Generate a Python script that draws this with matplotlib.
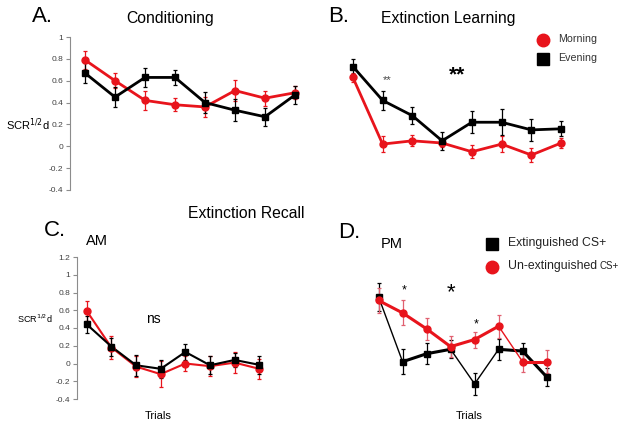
import numpy as np
import matplotlib
matplotlib.use('Agg')
from matplotlib import pyplot as plt

plt.rcParams['font.family'] = 'Liberation Sans'

trials = np.arange(1, 9)

# A. Conditioning
cond_am = [0.79, 0.60, 0.42, 0.38, 0.36, 0.51, 0.44, 0.49]
cond_am_err = [0.08, 0.07, 0.09, 0.06, 0.09, 0.10, 0.07, 0.06]
cond_pm = [0.67, 0.45, 0.63, 0.63, 0.40, 0.33, 0.27, 0.47]
cond_pm_err = [0.09, 0.09, 0.09, 0.07, 0.10, 0.10, 0.08, 0.08]

# B. Extinction learning
ext_am = [0.63, 0.02, 0.05, 0.03, -0.05, 0.02, -0.08, 0.03]
ext_am_err = [0.04, 0.07, 0.05, 0.04, 0.06, 0.07, 0.06, 0.05]
ext_pm = [0.73, 0.42, 0.28, 0.05, 0.22, 0.22, 0.15, 0.16]
ext_pm_err = [0.07, 0.09, 0.08, 0.08, 0.10, 0.12, 0.10, 0.07]

# C. Recall AM (red = un-extinguished, black = extinguished)
rec_am_un = [0.59, 0.18, -0.035, -0.12, 0.0, -0.03, 0.01, -0.06]
rec_am_un_err = [0.11, 0.13, 0.12, 0.15, 0.08, 0.11, 0.12, 0.11]
rec_am_ex = [0.44, 0.19, -0.02, -0.06, 0.13, -0.02, 0.04, -0.015]
rec_am_ex_err = [0.10, 0.10, 0.12, 0.10, 0.09, 0.10, 0.08, 0.10]

# D. Recall PM
rec_pm_un = [0.71, 0.57, 0.39, 0.19, 0.27, 0.42, 0.02, 0.02]
rec_pm_un_err = [0.14, 0.14, 0.12, 0.12, 0.09, 0.13, 0.12, 0.13]
rec_pm_ex = [0.75, 0.02, 0.11, 0.16, -0.23, 0.16, 0.14, -0.15]
rec_pm_ex_err = [0.16, 0.14, 0.12, 0.10, 0.12, 0.12, 0.09, 0.10]
# segment widths in panel D (some segments drawn thin in the original)
pm_ex_lw = [1.0, 2.2, 2.2, 1.0, 1.0, 2.2, 2.2]
pm_un_lw = [2.2, 2.2, 2.2, 2.2, 2.2, 1.0, 2.2]

W, H = 621, 426
RED = '#e8141c'
GRAY = '#8c8c8c'


def px_axes(fig, left, top, width, height):
    return fig.add_axes([left / W, 1 - (top + height) / H, width / W, height / H])


def style(ax, yticks, show_y=True):
    for s in ('top', 'right', 'bottom'):
        ax.spines[s].set_visible(False)
    ax.set_xticks([])
    if show_y:
        ax.spines['left'].set_color(GRAY)
        ax.spines['left'].set_linewidth(0.8)
        ax.set_yticks(yticks)
        ax.set_yticklabels([('%g' % t) for t in yticks], fontsize=6, color='#404040')
        ax.tick_params(axis='y', length=3, width=0.8, color=GRAY, pad=2)
    else:
        ax.spines['left'].set_visible(False)
        ax.set_yticks([])
    ax.patch.set_alpha(0)


def series(ax, y, err, color, marker, ecolor=None, ms=5, lw=2.0, seg_lw=None):
    ax.errorbar(trials, y, yerr=err, fmt='none', ecolor=ecolor or color,
                elinewidth=0.9, capsize=1.5, capthick=0.9, zorder=2)
    if seg_lw is None:
        ax.plot(trials, y, color=color, lw=lw, zorder=3)
    else:
        for i, w in enumerate(seg_lw):
            ax.plot(trials[i:i + 2], y[i:i + 2], color=color, lw=w, zorder=3)
    ax.plot(trials, y, ls='none', marker=marker, ms=ms, color=color, zorder=4)


fig = plt.figure(figsize=(W / 100, H / 100), dpi=100)

# Panel A
axA = px_axes(fig, 70, 37, 240, 153)
series(axA, cond_am, cond_am_err, RED, 'o')
series(axA, cond_pm, cond_pm_err, 'black', 's')
axA.set_xlim(0.5, 8.5)
axA.set_ylim(-0.4, 1.0)
style(axA, [-0.4, -0.2, 0, 0.2, 0.4, 0.6, 0.8, 1])

# Panel B
axB = px_axes(fig, 338, 37, 238, 153)
series(axB, ext_am, ext_am_err, RED, 'o')
series(axB, ext_pm, ext_pm_err, 'black', 's')
axB.set_xlim(0.5, 8.5)
axB.set_ylim(-0.4, 1.0)
style(axB, [], show_y=False)

# Panel C
axC = px_axes(fig, 77, 257, 197, 142)
series(axC, rec_am_un, rec_am_un_err, RED, 'o', lw=1.5)
series(axC, rec_am_ex, rec_am_ex_err, 'black', 's', lw=1.5)
axC.set_xlim(0.6, 8.6)
axC.set_ylim(-0.4, 1.2)
style(axC, [-0.4, -0.2, 0, 0.2, 0.4, 0.6, 0.8, 1, 1.2])

# Panel D
axD = px_axes(fig, 369, 257, 192, 142)
series(axD, rec_pm_ex, rec_pm_ex_err, 'black', 's', seg_lw=pm_ex_lw)
series(axD, rec_pm_un, rec_pm_un_err, RED, 'o', ecolor='#e06070', seg_lw=pm_un_lw)
axD.set_xlim(0.6, 8.6)
axD.set_ylim(-0.4, 1.2)
style(axD, [], show_y=False)


def t(x, y, s, size, **kw):
    kw.setdefault('va', 'center')
    return fig.text(x / W, 1 - y / H, s, fontsize=size, **kw)


# Titles and labels
t(32, 16, 'A.', 16)
t(170, 19, 'Conditioning', 11.3, ha='center')
t(6, 125, r'SCR$^{1/2}$d', 8)
t(328, 17, 'B.', 16)
t(448, 18, 'Extinction Learning', 11.3, ha='center')
t(246, 213, 'Extinction Recall', 11.3, ha='center')
t(44, 230, 'C.', 16)
t(86, 241, 'AM', 10.5)
t(17, 319, r'SCR$^{1/2}$d', 6.5)
t(146, 319, 'ns', 10)
t(158, 416, 'Trials', 8, ha='center')
t(338, 233, 'D.', 16)
t(381, 244, 'PM', 10.5)
t(469, 416, 'Trials', 8, ha='center')

# significance stars
t(387, 80, '**', 8, ha='center', color='#444444')
t(457, 75, '**', 15, ha='center', fontweight='bold')
t(404, 290, '*', 9, ha='center')
t(451, 293, '*', 16, ha='center')
t(476, 324, '*', 9, ha='center')

# Legend B
fig.lines.append(plt.Line2D([543 / W], [1 - 40 / H], marker='o', ms=9, color=RED,
                            ls='none', transform=fig.transFigure))
fig.lines.append(plt.Line2D([543 / W], [1 - 59 / H], marker='s', ms=8, color='black',
                            ls='none', transform=fig.transFigure))
t(558, 39, 'Morning', 7.7, color='#333333')
t(558, 58, 'Evening', 7.7, color='#333333')

# Legend D
fig.lines.append(plt.Line2D([492 / W], [1 - 244 / H], marker='s', ms=8, color='black',
                            ls='none', transform=fig.transFigure))
fig.lines.append(plt.Line2D([492 / W], [1 - 267 / H], marker='o', ms=9, color=RED,
                            ls='none', transform=fig.transFigure))
t(508, 243, 'Extinguished CS+', 8.8, color='#222222')
un = t(508, 266, 'Un-extinguished', 8.8, color='#222222')
# smaller "CS+" placed right after the label
fig.canvas.draw()
bb = un.get_window_extent()
t(bb.x1 + 2, 266, 'CS+', 7, color='#222222')

fig.savefig('out.png', dpi=100)
